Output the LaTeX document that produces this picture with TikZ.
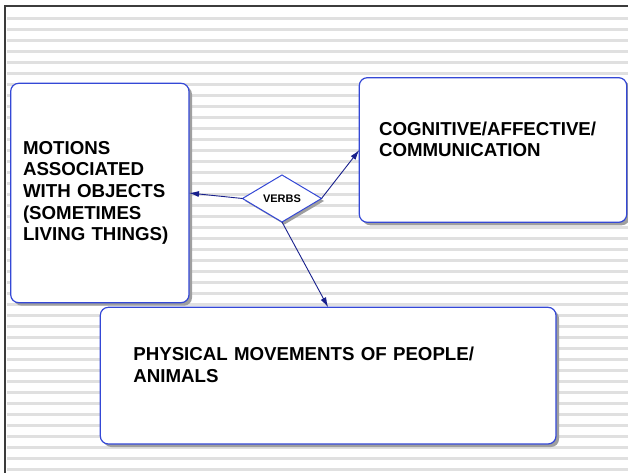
\documentclass[tikz,border=0pt]{standalone}
\usepackage{fontspec}
\setmainfont{Liberation Sans}
\usetikzlibrary{shapes.geometric,shadows,arrows.meta}
\definecolor{boxblue}{RGB}{52,72,214}
\definecolor{linkblue}{RGB}{24,32,140}
\definecolor{stripegray}{RGB}{224,224,224}
\definecolor{framegray}{RGB}{60,60,60}

\begin{document}
\begin{tikzpicture}[x=1pt,y=-1pt,inner sep=0pt,outer sep=0pt,
>={Latex[length=10pt,width=6pt]},
concept/.style={draw=boxblue,fill=white,line width=1.2pt,rounded corners=8pt,align=left,
  drop shadow={shadow xshift=3pt,shadow yshift=-3pt,fill=gray!75,opacity=1},
  font=\fontsize{18.7}{21.6}\selectfont\bfseries},
hub/.style={diamond,draw=boxblue,fill=white,line width=1pt,aspect=1.68,
  minimum width=79pt,minimum height=47pt,
  drop shadow={shadow xshift=2.5pt,shadow yshift=-2.5pt,fill=gray!75,opacity=1},
  font=\fontsize{11}{13}\selectfont\bfseries},
link/.style={->,draw=linkblue,line width=0.9pt}]

\useasboundingbox (0,0) rectangle (628,473);

% ruled background
\foreach \k in {0,...,41}
  \draw[stripegray,line width=2.5pt] (6.5,{18.3+11*\k}) -- (628,{18.3+11*\k});
\draw[framegray,line width=1.2pt] (5,473) -- (5,6) -- (628,6);

\draw (99.85,193) node[concept,text width=153.7pt,inner xsep=12.3pt,minimum height=219.4pt] (motions)
  {MOTIONS\\ASSOCIATED\\WITH OBJECTS\\(SOMETIMES\\LIVING THINGS)};
\draw (493,150) node[concept,text width=228pt,inner xsep=19.7pt,minimum height=144.6pt] (cog)
  {COGNITIVE/AFFECTIVE/\\COMMUNICATION\\ \mbox{}};
\draw (328.15,375.65) node[concept,text width=389.7pt,inner xsep=33pt,minimum height=136.7pt] (phys)
  {PHYSICAL MOVEMENTS OF PEOPLE/\\ANIMALS\\ \mbox{}};
\draw (282,198.5) node[hub] (verbs) {VERBS};

\draw[link] (verbs.west) -- (motions.east);
\draw[link] (verbs.east) -- (cog.west);
\draw[link] (verbs.south) -- (phys.north);

\end{tikzpicture}
\end{document}
